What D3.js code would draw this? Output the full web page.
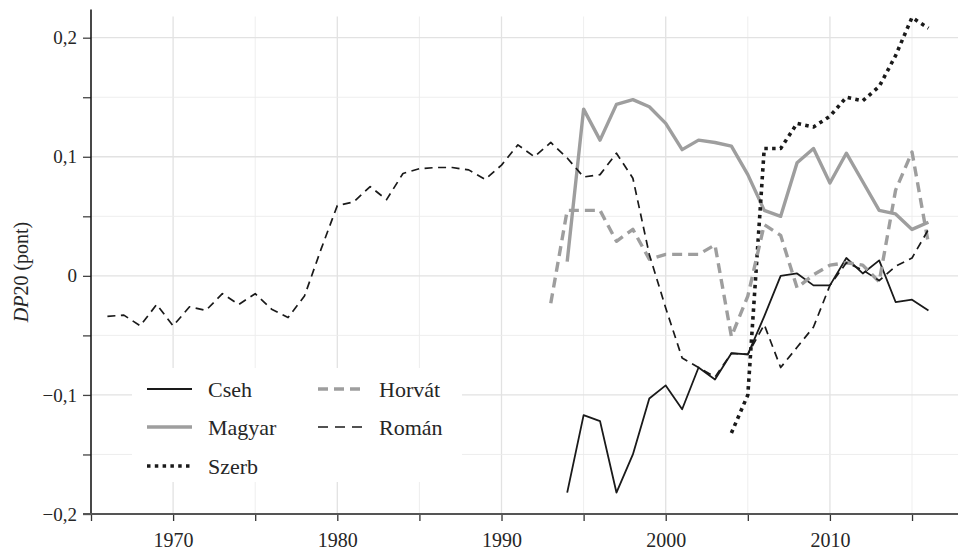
<!DOCTYPE html>
<html>
<head>
<meta charset="utf-8">
<script src="https://cdn.jsdelivr.net/npm/d3@7"></script>
<style>
  body { margin: 0; background: #fff; }
  svg text { font-family: "Liberation Serif", "DejaVu Serif", serif; fill: #262626; }
</style>
</head>
<body>
<div id="chart"></div>
<script>
// values
var cseh_years = d3.range(1994, 2017);
var cseh = [-0.182, -0.117, -0.122, -0.182, -0.150, -0.103, -0.092, -0.112, -0.077, -0.087, -0.065, -0.066,
  -0.034, 0.000, 0.002, -0.008, -0.008, 0.015, 0.002, 0.013, -0.022, -0.020, -0.029];

var magyar_years = d3.range(1994, 2017);
var magyar = [0.012, 0.140, 0.114, 0.144, 0.148, 0.142, 0.128, 0.106, 0.114, 0.112, 0.109, 0.085,
  0.055, 0.050, 0.095, 0.107, 0.078, 0.103, 0.079, 0.055, 0.052, 0.039, 0.045];

var szerb_years = d3.range(2004, 2017);
var szerb = [-0.132, -0.100, 0.107, 0.107, 0.128, 0.125, 0.134, 0.150, 0.147, 0.159, 0.185, 0.217, 0.208];

var horvat_years = d3.range(1993, 2017);
var horvat = [-0.023, 0.055, 0.055, 0.055, 0.029, 0.039, 0.014, 0.018, 0.018, 0.018, 0.026, -0.051,
  -0.017, 0.043, 0.034, -0.010, 0.001, 0.009, 0.011, 0.009, -0.005, 0.072, 0.104, 0.027];

var roman_years = d3.range(1966, 2017);
var roman = [-0.034, -0.033, -0.042, -0.024, -0.042, -0.026, -0.029, -0.015, -0.024, -0.015, -0.028, -0.035,
  -0.017, 0.022, 0.059, 0.062, 0.075, 0.064, 0.086, 0.090, 0.091, 0.091, 0.089, 0.081, 0.093, 0.110,
  0.100, 0.112, 0.099, 0.083, 0.085, 0.103, 0.082, 0.018, -0.027, -0.069, -0.077, -0.085, -0.065, -0.066,
  -0.041, -0.077, -0.060, -0.043, -0.008, 0.011, 0.005, -0.004, 0.008, 0.015, 0.039];

var x_ticks = d3.range(1965, 2016, 5);
var y_ticks = d3.range(-0.2, 0.2001, 0.05);

var series = [
  { name: "Cseh", years: cseh_years, values: cseh, color: "#1a1a1a", width: 1.8, dash: null },
  { name: "Magyar", years: magyar_years, values: magyar, color: "#9e9e9e", width: 3.4, dash: null },
  { name: "Szerb", years: szerb_years, values: szerb, color: "#1a1a1a", width: 3.6, dash: "3.5,4.3" },
  { name: "Horvát", years: horvat_years, values: horvat, color: "#9e9e9e", width: 3.4, dash: "10,6" },
  { name: "Román", years: roman_years, values: roman, color: "#1a1a1a", width: 1.7, dash: "8,5.5" }
];

var width = 971, height = 551;

var x = d3.scaleLinear().domain([1965, 2017.8]).range([91, 958]);
var y = d3.scaleLinear().domain([-0.2, 0.222]).range([514, 11.5]);

var svg = d3.select("#chart").append("svg")
  .attr("width", width)
  .attr("height", height);

function isMajor(v, step) {
  return Math.abs(v / step - Math.round(v / step)) < 1e-6;
}

// grid
var grid = svg.append("g");
grid.selectAll(".vg")
  .data(x_ticks.filter(function(d) { return d > 1965; }))
  .enter().append("line")
  .attr("x1", function(d) { return x(d); })
  .attr("x2", function(d) { return x(d); })
  .attr("y1", y.range()[1] + 5)
  .attr("y2", y.range()[0])
  .attr("stroke", function(d) { return d % 10 === 0 ? "#e2e2e2" : "#ececec"; })
  .attr("stroke-width", function(d) { return d % 10 === 0 ? 1.3 : 0.9; });

grid.selectAll(".hg")
  .data(y_ticks)
  .enter().append("line")
  .attr("x1", x.range()[0])
  .attr("x2", x.range()[1])
  .attr("y1", function(d) { return y(d); })
  .attr("y2", function(d) { return y(d); })
  .attr("stroke", function(d) { return isMajor(d, 0.1) ? "#e2e2e2" : "#ececec"; })
  .attr("stroke-width", function(d) { return isMajor(d, 0.1) ? 1.3 : 0.9; });

// lines
var line = d3.line()
  .x(function(d) { return x(d[0]); })
  .y(function(d) { return y(d[1]); });

svg.selectAll(".serie")
  .data(series)
  .enter().append("path")
  .attr("class", "serie")
  .attr("d", function(s) { return line(d3.zip(s.years, s.values)); })
  .attr("fill", "none")
  .attr("stroke", function(s) { return s.color; })
  .attr("stroke-width", function(s) { return s.width; })
  .attr("stroke-dasharray", function(s) { return s.dash; })
  .attr("stroke-linejoin", "round");

// axes
var fmt = d3.format(".1f");
var yAxis = d3.axisLeft(y)
  .tickValues(y_ticks)
  .tickSize(8)
  .tickPadding(6)
  .tickFormat(function(d) {
    if (!isMajor(d, 0.1)) return "";
    if (Math.abs(d) < 1e-9) return "0";
    return fmt(d).replace(".", ",");
  });

var gy = svg.append("g")
  .attr("transform", "translate(" + x.range()[0] + ",0)")
  .call(yAxis);
gy.select(".domain").remove();
gy.append("line")
  .attr("x1", 0).attr("x2", 0)
  .attr("y1", y.range()[1] - 2).attr("y2", y.range()[0])
  .attr("stroke", "#1a1a1a").attr("stroke-width", 1.6);
gy.selectAll(".tick line").attr("stroke", "#444").attr("stroke-width", 1.3);
gy.selectAll(".tick text").style("font-size", "19px").attr("fill", "#262626");

var xAxis = d3.axisBottom(x)
  .tickValues(x_ticks)
  .tickSize(7)
  .tickPadding(12)
  .tickFormat(function(d) { return d % 10 === 0 ? d : ""; });

var gx = svg.append("g")
  .attr("transform", "translate(0," + y.range()[0] + ")")
  .call(xAxis);
gx.select(".domain").remove();
gx.append("line")
  .attr("x1", x.range()[0] - 8).attr("x2", x.range()[1])
  .attr("y1", 0).attr("y2", 0)
  .attr("stroke", "#555").attr("stroke-width", 2);
gx.selectAll(".tick line").attr("stroke", "#333").attr("stroke-width", 1.3);
gx.selectAll(".tick text").style("font-size", "20px").attr("fill", "#262626");

// y title
var title = svg.append("text")
  .attr("transform", "translate(28,272) rotate(-90)")
  .attr("text-anchor", "middle")
  .style("font-size", "20px");
title.append("tspan").style("font-style", "italic").text("DP");
title.append("tspan").text("20 (pont)");

// legend
var legend = svg.append("g");
legend.append("rect")
  .attr("x", 132).attr("y", 368)
  .attr("width", 330).attr("height", 114)
  .attr("fill", "#fff");

var legend_pos = [
  { col: 0, row: 0 }, { col: 0, row: 1 }, { col: 0, row: 2 },
  { col: 1, row: 0 }, { col: 1, row: 1 }
];
var colX = [147, 318], rowY = [389, 427, 466];

var item = legend.selectAll(".item")
  .data(series)
  .enter().append("g")
  .attr("transform", function(s, i) {
    return "translate(" + colX[legend_pos[i].col] + "," + rowY[legend_pos[i].row] + ")";
  });

item.append("line")
  .attr("x1", 0).attr("x2", 45)
  .attr("stroke", function(s) { return s.color; })
  .attr("stroke-width", function(s) { return s.width; })
  .attr("stroke-dasharray", function(s) { return s.name === "Román" ? "10,7" : s.dash; });

item.append("text")
  .attr("x", 61)
  .attr("dy", "0.35em")
  .style("font-size", "22px")
  .text(function(s) { return s.name; });
</script>
</body>
</html>
